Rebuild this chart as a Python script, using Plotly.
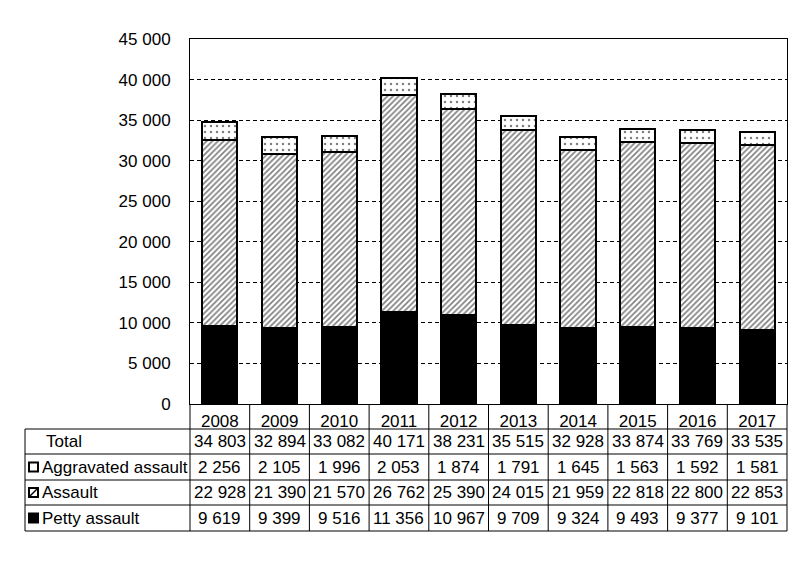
import plotly.graph_objects as go

years = ["2008", "2009", "2010", "2011", "2012", "2013", "2014", "2015", "2016", "2017"]
petty = [9619, 9399, 9516, 11356, 10967, 9709, 9324, 9493, 9377, 9101]
assault = [22928, 21390, 21570, 26762, 25390, 24015, 21959, 22818, 22800, 22853]
aggravated = [2256, 2105, 1996, 2053, 1874, 1791, 1645, 1563, 1592, 1581]
total = [34803, 32894, 33082, 40171, 38231, 35515, 32928, 33874, 33769, 33535]
y_ticks = [0, 5000, 10000, 15000, 20000, 25000, 30000, 35000, 40000, 45000]

FONT = "Arial, Liberation Sans, sans-serif"
FS = 17

# plot area as seen on screen: x 190..787, y 39..404
# the page body has an 8px margin, so the figure is shifted by that much
OFF = 8
L, R, T, B = 190, 787, 39, 404


def px(p):
    return (p - L) / (R - L)


def py(p):
    return (B - p) / (B - T)


def fmt(v):
    return f"{v:,}".replace(",", " ")


fig = go.Figure()

line = dict(color="black", width=2)
fig.add_trace(go.Bar(x=years, y=petty, name="Petty assault",
                     marker=dict(color="black", line=line)))
fig.add_trace(go.Bar(x=years, y=assault, name="Assault",
                     marker=dict(color="white", line=line,
                                 pattern=dict(shape="/", size=4, solidity=0.42,
                                              fgcolor="black", bgcolor="white"))))
fig.add_trace(go.Bar(x=years, y=aggravated, name="Aggravated assault",
                     marker=dict(color="white", line=line,
                                 pattern=dict(shape=".", size=6, solidity=0.14,
                                              fgcolor="black", bgcolor="white"))))

shapes = []
annotations = []

# table row boundaries (pixel y)
row_lines = [429, 454, 480, 505, 531]
for yl in row_lines:
    shapes.append(dict(type="line", xref="paper", yref="paper",
                       x0=px(25), x1=1, y0=py(yl), y1=py(yl),
                       line=dict(color="black", width=1)))
# outer left border of table
shapes.append(dict(type="line", xref="paper", yref="paper",
                   x0=px(25), x1=px(25), y0=py(429), y1=py(531),
                   line=dict(color="black", width=1)))
# plot frame extended down through table
for xp in (0, 1):
    shapes.append(dict(type="line", xref="paper", yref="paper",
                       x0=xp, x1=xp, y0=py(B), y1=py(531),
                       line=dict(color="black", width=1)))
# column separators
for i in range(1, len(years)):
    shapes.append(dict(type="line", xref="x", yref="paper",
                       x0=i - 0.5, x1=i - 0.5, y0=0, y1=py(531),
                       line=dict(color="black", width=1)))

rows = [("Total", total), ("Aggravated assault", aggravated),
        ("Assault", assault), ("Petty assault", petty)]
for r, (label, vals) in enumerate(rows):
    yc = py((row_lines[r] + row_lines[r + 1]) / 2)
    for i, v in enumerate(vals):
        annotations.append(dict(x=i, y=yc, xref="x", yref="paper",
                                text=fmt(v), showarrow=False,
                                xanchor="center", yanchor="middle",
                                font=dict(family=FONT, size=FS, color="black")))
    lx = 44 if label == "Total" else 40
    annotations.append(dict(x=px(lx), y=yc, xref="paper", yref="paper",
                            text=label, showarrow=False,
                            xanchor="left", yanchor="middle",
                            font=dict(family=FONT, size=FS, color="black")))

# legend swatches in table
for r, kind in [(1, "aggr"), (2, "assault"), (3, "petty")]:
    yc = (row_lines[r] + row_lines[r + 1]) / 2
    y0, y1 = py(yc + 4.5), py(yc - 4.5)
    x0, x1 = px(29), px(38)
    fill = "black" if kind == "petty" else "white"
    shapes.append(dict(type="rect", xref="paper", yref="paper",
                       x0=x0, x1=x1, y0=y0, y1=y1,
                       fillcolor=fill, line=dict(color="black", width=2)))
    if kind == "assault":
        shapes.append(dict(type="line", xref="paper", yref="paper",
                           x0=x0, x1=x1, y0=y0, y1=y1,
                           line=dict(color="black", width=1.5)))

fig.update_layout(
    width=804, height=567,
    margin=dict(l=L - OFF, r=804 - R + OFF, t=T - OFF, b=567 - B + OFF),
    barmode="stack", bargap=0.41,
    showlegend=False,
    plot_bgcolor="white", paper_bgcolor="white",
    separators=". ",
    font=dict(family=FONT, size=FS, color="black"),
    shapes=shapes, annotations=annotations,
)
fig.update_xaxes(type="category", showline=True, linecolor="black", linewidth=1,
                 mirror=True, ticks="", ticklabelstandoff=2,
                 tickfont=dict(family=FONT, size=FS, color="black"),
                 range=[-0.5, len(years) - 0.5])
fig.update_yaxes(range=[0, 45000], tickvals=y_ticks, tickformat=",d",
                 showline=True, linecolor="black", linewidth=1, mirror=True,
                 showgrid=True, gridcolor="black", gridwidth=1, griddash="4px,3px",
                 zeroline=False, ticks="", ticklabelstandoff=15,
                 tickfont=dict(family=FONT, size=FS, color="black"))

fig.write_html("out.html")
